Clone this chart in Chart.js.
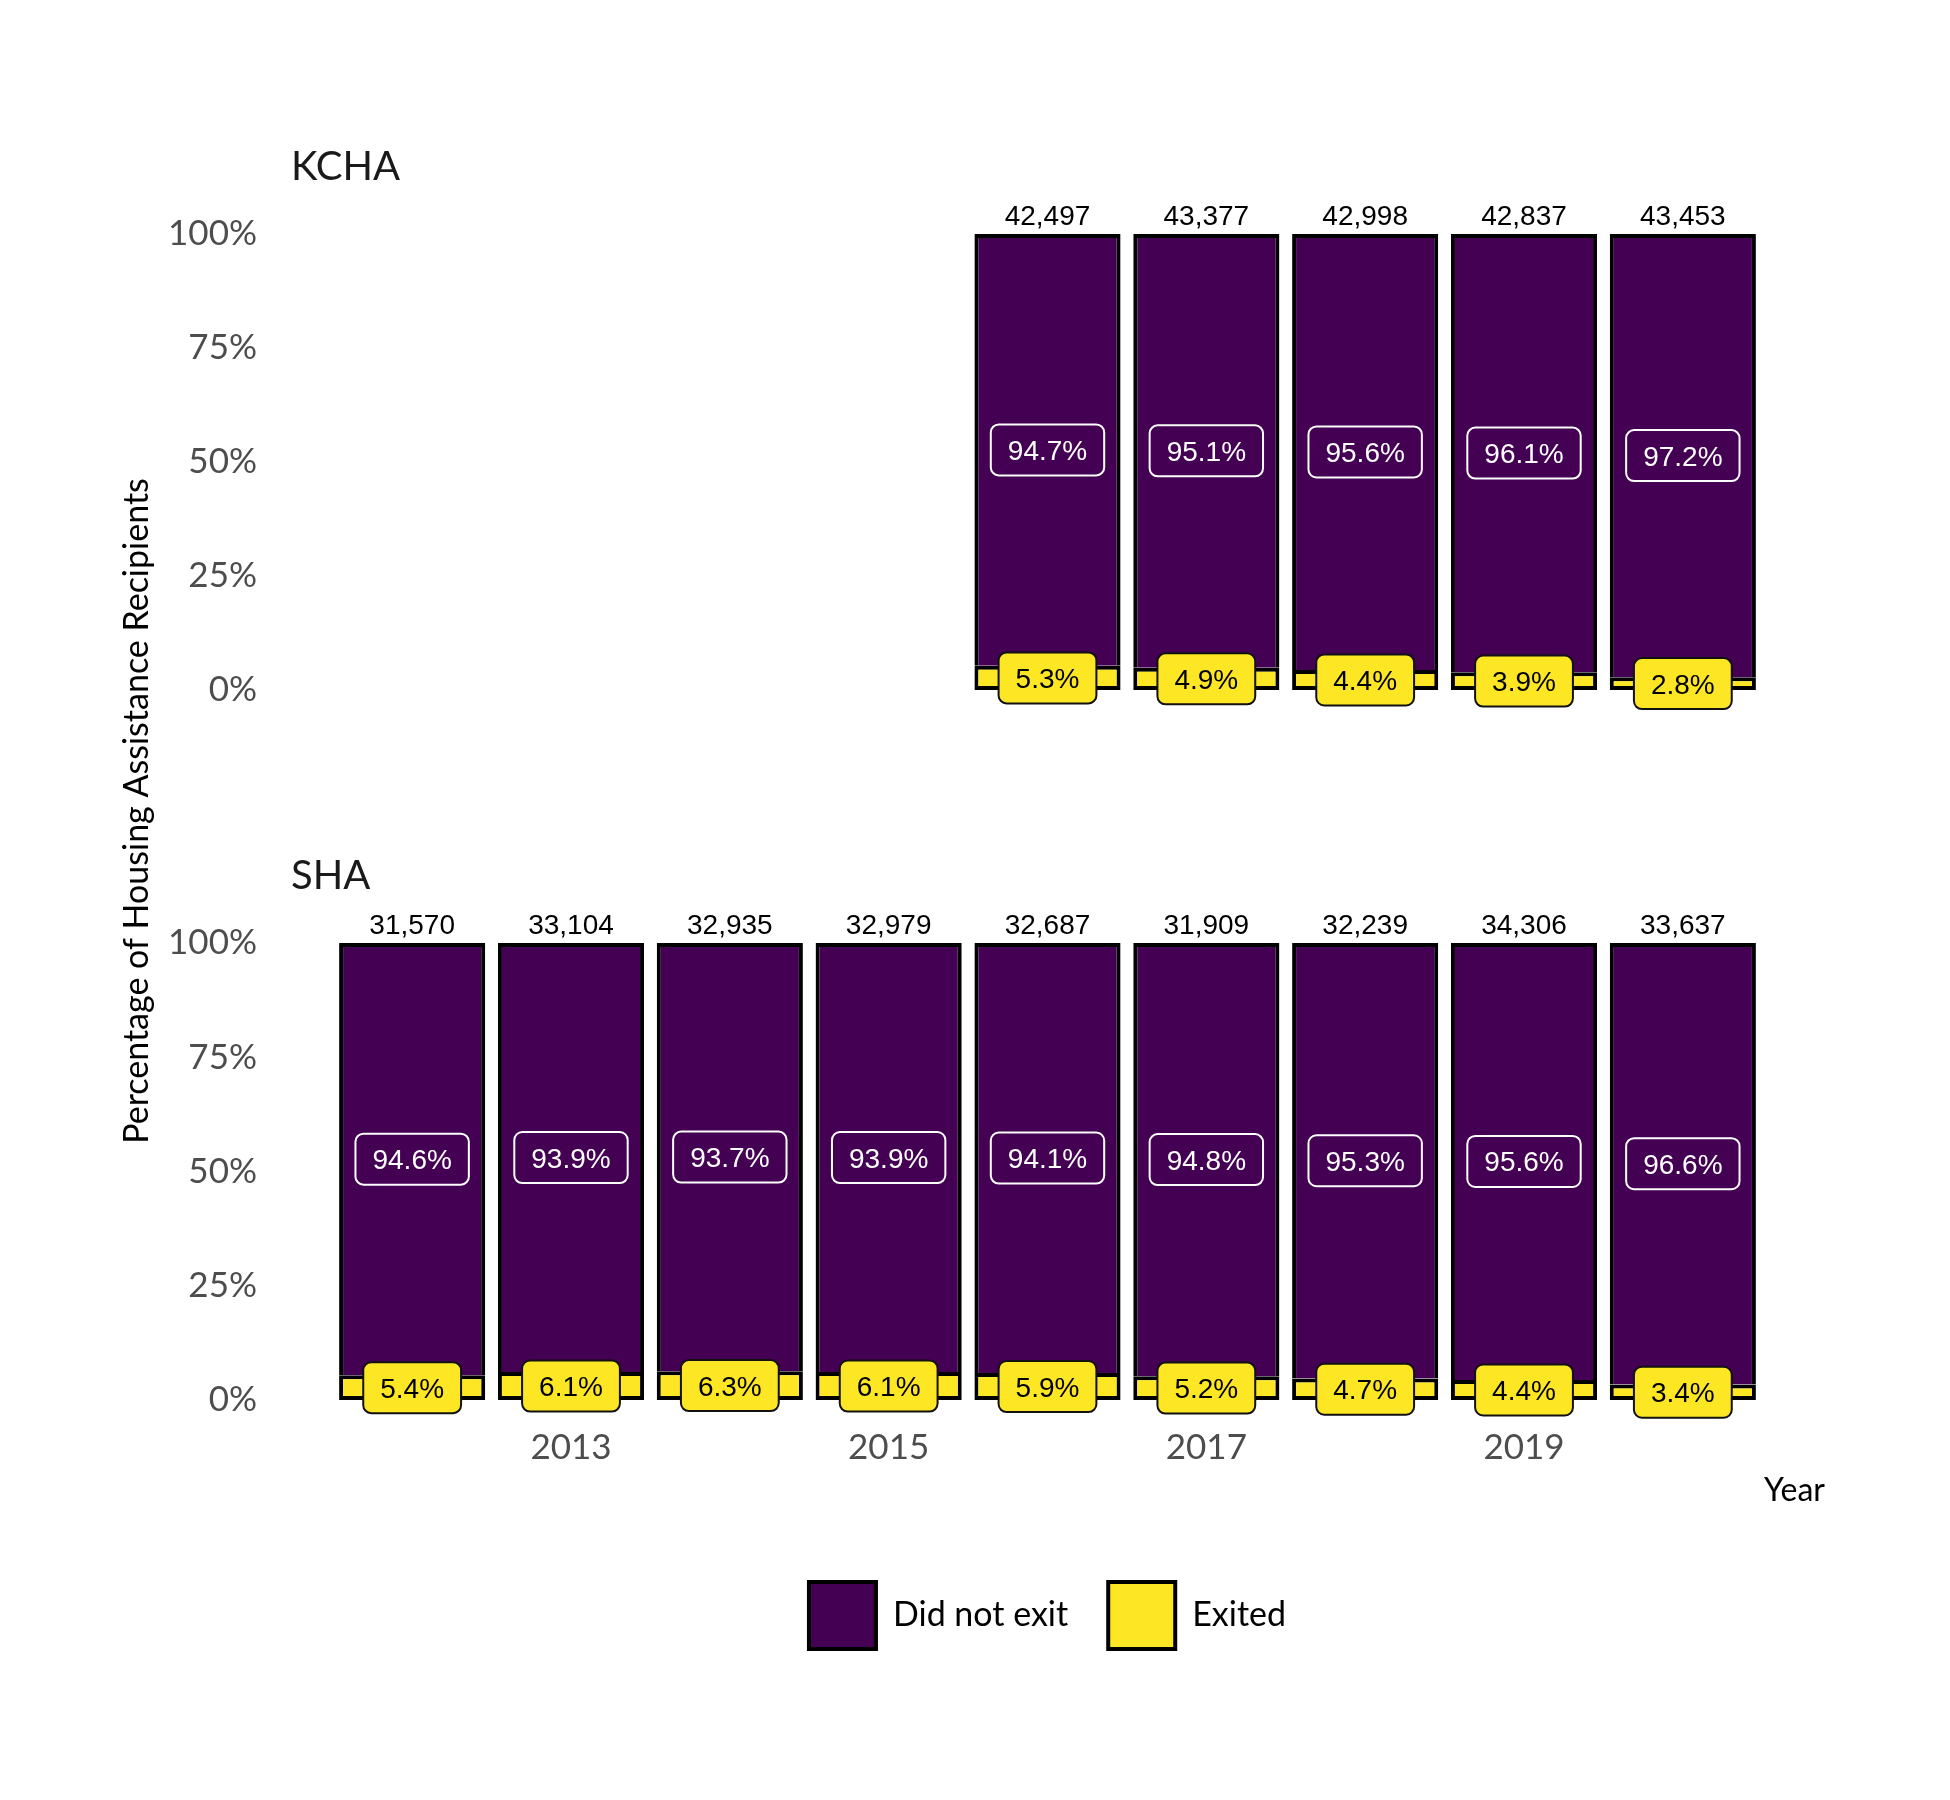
<!DOCTYPE html>
<html>
<head>
<meta charset="utf-8">
<script src="https://cdn.jsdelivr.net/npm/chart.js@4.4.1/dist/chart.umd.min.js"></script>
<style>
html, body { margin: 0; padding: 0; background: #ffffff; }
#wrap { position: relative; width: 1950px; height: 1800px; background: #ffffff; }
#wrap canvas { position: absolute; left: 0; top: 0; }
</style>
</head>
<body>
<div id="wrap">
  <canvas id="kcha" width="1950" height="1800"></canvas>
  <canvas id="sha" width="1950" height="1800"></canvas>
</div>
<script>
// ---- data ----
const panelNames = ['KCHA', 'SHA'];
const seriesNames = ['Did not exit', 'Exited'];

const kchaYears   = [2016, 2017, 2018, 2019, 2020];
const kchaTotals  = [42497, 43377, 42998, 42837, 43453];
const kchaStayed  = [94.7, 95.1, 95.6, 96.1, 97.2];
const kchaExited  = [5.3, 4.9, 4.4, 3.9, 2.8];

const shaYears    = [2012, 2013, 2014, 2015, 2016, 2017, 2018, 2019, 2020];
const shaTotals   = [31570, 33104, 32935, 32979, 32687, 31909, 32239, 34306, 33637];
const shaStayed   = [94.6, 93.9, 93.7, 93.9, 94.1, 94.8, 95.3, 95.6, 96.6];
const shaExited   = [5.4, 6.1, 6.3, 6.1, 5.9, 5.2, 4.7, 4.4, 3.4];

const xTickYears  = [2013, 2015, 2017, 2019];
const yTickValues = [0, 25, 50, 75, 100];
const xTitle = 'Year';
const yTitle = 'Percentage of Housing Assistance Recipients';

// ---- styles ----
const PURPLE = '#440154';
const YELLOW = '#FDE725';
const TICK_COLOR = '#4D4D4D';
const AXIS_FONT = 'Lato';
const LABEL_FONT = '"Liberation Sans", Arial, sans-serif';

function roundRect(ctx, x, y, w, h, r) {
  ctx.beginPath();
  ctx.moveTo(x + r, y);
  ctx.lineTo(x + w - r, y);
  ctx.arcTo(x + w, y, x + w, y + r, r);
  ctx.lineTo(x + w, y + h - r);
  ctx.arcTo(x + w, y + h, x + w - r, y + h, r);
  ctx.lineTo(x + r, y + h);
  ctx.arcTo(x, y + h, x, y + h - r, r);
  ctx.lineTo(x, y + r);
  ctx.arcTo(x, y, x + r, y, r);
  ctx.closePath();
}

function makeTextPlugin(panelName, totals, drawYTitle) {
  return {
    id: 'panelText',
    afterDatasetsDraw(chart) {
      const ctx = chart.ctx;
      const area = chart.chartArea;
      ctx.save();
      // segment labels
      ctx.font = '28px ' + LABEL_FONT;
      ctx.textAlign = 'center';
      ctx.textBaseline = 'alphabetic';
      chart.data.datasets.forEach((ds, di) => {
        const meta = chart.getDatasetMeta(di);
        meta.data.forEach((el, i) => {
          const p = el.getProps(['x', 'y', 'base'], true);
          const cy = (p.y + p.base) / 2;
          const txt = ds.data[i].toFixed(1) + '%';
          const tw = ctx.measureText(txt).width;
          const w = tw + 34, h = 51;
          roundRect(ctx, p.x - w / 2, cy - h / 2, w, h, 8);
          if (di === 0) {
            ctx.fillStyle = YELLOW; ctx.fill();
            ctx.lineWidth = 2; ctx.strokeStyle = '#111111'; ctx.stroke();
            ctx.fillStyle = '#000000';
          } else {
            ctx.lineWidth = 2; ctx.strokeStyle = '#ffffff'; ctx.stroke();
            ctx.fillStyle = '#ffffff';
          }
          ctx.fillText(txt, p.x, cy + 10);
        });
      });
      // totals above bars
      const topMeta = chart.getDatasetMeta(chart.data.datasets.length - 1);
      ctx.fillStyle = '#000000';
      topMeta.data.forEach((el, i) => {
        const p = el.getProps(['x', 'y'], true);
        ctx.fillText(totals[i].toLocaleString('en-US'), p.x, p.y - 9);
      });
      // panel title
      ctx.font = '40px ' + AXIS_FONT;
      ctx.textAlign = 'left';
      ctx.fillStyle = '#1a1a1a';
      ctx.fillText(panelName, area.left + 21, area.top - 54);
      // shared y-axis title
      if (drawYTitle) {
        ctx.save();
        ctx.translate(137, 811);
        ctx.rotate(-Math.PI / 2);
        ctx.font = '34px ' + AXIS_FONT;
        ctx.textAlign = 'center';
        ctx.textBaseline = 'middle';
        ctx.fillStyle = '#000000';
        ctx.fillText(yTitle, 0, 0);
        ctx.restore();
      }
      ctx.restore();
    }
  };
}

function buildChart(canvasId, years, stayed, exited, totals, panelName, isBottom) {
  const ctx = document.getElementById(canvasId).getContext('2d');
  return new Chart(ctx, {
    type: 'bar',
    data: {
      labels: years,
      datasets: [
        {
          label: seriesNames[1],
          data: exited,
          backgroundColor: YELLOW,
          borderColor: '#000000',
          borderWidth: 4,
          borderSkipped: false,
          barPercentage: 0.92,
          categoryPercentage: 1.0
        },
        {
          label: seriesNames[0],
          data: stayed,
          backgroundColor: PURPLE,
          borderColor: '#000000',
          borderWidth: 4,
          borderSkipped: 'start',
          barPercentage: 0.92,
          categoryPercentage: 1.0
        }
      ]
    },
    options: {
      responsive: false,
      animation: false,
      devicePixelRatio: 1,
      layout: {
        padding: isBottom
          ? { top: 943, bottom: 141, left: 0, right: 125 }
          : { top: 234, bottom: 1110, left: 0, right: 125 }
      },
      scales: {
        x: {
          type: 'linear',
          display: isBottom,
          offset: false,
          min: 2011.105,
          max: 2020.895,
          stacked: true,
          grid: { display: false, drawTicks: false, offset: false },
          border: { display: false },
          afterBuildTicks: s => { s.ticks = xTickYears.map(v => ({ value: v })); },
          ticks: {
            callback: v => String(v),
            font: { family: AXIS_FONT, size: 35 },
            color: TICK_COLOR,
            padding: 27,
            maxRotation: 0,
            autoSkip: false
          },
          title: {
            display: isBottom,
            text: xTitle,
            align: 'end',
            font: { family: AXIS_FONT, size: 32 },
            color: '#000000',
            padding: { top: 0, bottom: 32 }
          },
          afterFit: s => { if (isBottom) s.height = 142; }
        },
        y: {
          min: 0,
          max: 100,
          stacked: true,
          grid: { display: false, drawTicks: false },
          border: { display: false },
          afterBuildTicks: s => { s.ticks = yTickValues.map(v => ({ value: v })); },
          ticks: {
            callback: v => v + '%',
            font: { family: AXIS_FONT, size: 35 },
            color: TICK_COLOR,
            padding: 13
          },
          afterFit: s => { s.width = 270; }
        }
      },
      plugins: {
        tooltip: { enabled: false },
        legend: {
          display: isBottom,
          position: 'bottom',
          fullSize: false,
          reverse: true,
          align: 'center',
          labels: {
            boxWidth: 67,
            boxHeight: 67,
            padding: 40,
            color: '#000000',
            font: { family: AXIS_FONT, size: 34 }
          }
        }
      }
    },
    plugins: [makeTextPlugin(panelName, totals, isBottom)]
  });
}

function build() {
  buildChart('kcha', kchaYears, kchaStayed, kchaExited, kchaTotals, panelNames[0], false);
  buildChart('sha', shaYears, shaStayed, shaExited, shaTotals, panelNames[1], true);
}

Promise.all([
  document.fonts.load('35px Lato'),
  document.fonts.load('28px "Liberation Sans"')
]).catch(() => {}).then(build);
</script>
</body>
</html>
